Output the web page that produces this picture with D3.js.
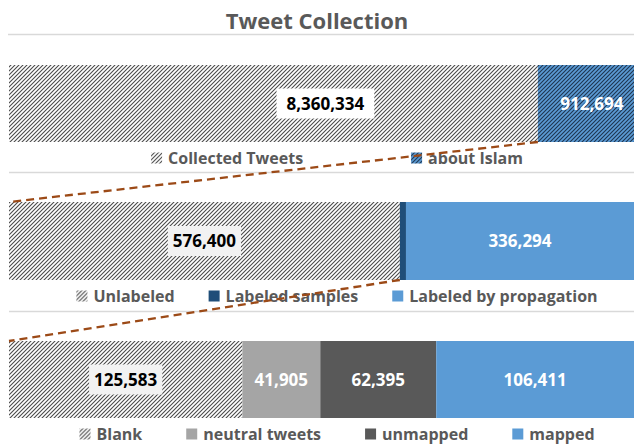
<!DOCTYPE html>
<html>
<head>
<meta charset="utf-8">
<script src="https://d3js.org/d3.v7.min.js"></script>
<style>
  body { margin: 0; background: #fff; }
  svg { display: block; font-family: 'Open Sans', sans-serif; font-weight: bold; }
</style>
</head>
<body>
<svg id="chart" width="634" height="445"></svg>
<script>
// data
const collectedNames = ['Collected Tweets', 'about Islam']
const collectedValues = [8360334, 912694]
// bar lengths as drawn in the original (the blue part is not to scale)
const collectedBars = [8360334, 1520000]

const labeledNames = ['Unlabeled', 'Labeled samples', 'Labeled by propagation']
const labeledValues = [576400, 9000, 336294]
const labeledShown = [true, false, true]

const mappedNames = ['Blank', 'neutral tweets', 'unmapped', 'mapped']
const mappedValues = [125583, 41905, 62395, 106411]

const width = 634
const height = 445
const fmt = d3.format(',')
const svg = d3.select('#chart')

// patterns
const defs = svg.append('defs')
function hatch(id, bg, fg) {
  let p = defs.append('pattern').attr('id', id).attr('patternUnits', 'userSpaceOnUse')
    .attr('width', 4).attr('height', 4)
  p.append('rect').attr('width', 4).attr('height', 4).attr('fill', bg)
  p.append('path').attr('d', 'M-1,1 l2,-2 M0,4 l4,-4 M3,5 l2,-2')
    .attr('stroke', fg).attr('stroke-width', 1.1)
}
hatch('hatch', '#ffffff', '#4a4a4a')
hatch('hatchBlue', '#5b9bd5', '#1d3550')

// title
svg.append('text').attr('x', 317).attr('y', 29).attr('text-anchor', 'middle')
  .attr('font-size', 22).attr('fill', '#595959').text('Tweet Collection')
svg.append('line').attr('x1', 8).attr('x2', width).attr('y1', 34.5).attr('y2', 34.5)
  .attr('stroke', '#d9d9d9').attr('stroke-width', 1.5)

const panels = [
  { names: collectedNames, values: collectedValues, bars: collectedBars, shown: [true, true],
    fills: ['url(#hatch)', 'url(#hatchBlue)'], textFill: ['#000', '#fff'], box: ['#ffffff', null],
    boxPad: 10, labelDx: [52, 6], top: 65, h: 77, legendY: 158, gap: 108, sep: 172 },
  { names: labeledNames, values: labeledValues, bars: labeledValues, shown: labeledShown,
    fills: ['url(#hatch)', '#1f4e79', '#5b9bd5'], textFill: ['#000', '#fff', '#fff'], box: ['#f2f2f2', null, null],
    boxPad: 5, labelDx: [0, 0, 0], top: 202, h: 78, legendY: 296, gap: 34, sep: 311 },
  { names: mappedNames, values: mappedValues, bars: mappedValues, shown: [true, true, true, true],
    fills: ['url(#hatch)', '#a5a5a5', '#595959', '#5b9bd5'], textFill: ['#000', '#fff', '#fff', '#fff'], box: ['#f2f2f2', null, null, null],
    boxPad: 5, labelDx: [0, 0, 0, 0], top: 341, h: 77, legendY: 434, gap: 44, sep: null }
]

panels.forEach(p => {
  let x = d3.scaleLinear().domain([0, d3.sum(p.bars)]).range([9, width])
  let ends = Array.from(d3.cumsum(p.bars))
  let starts = ends.map((e, i) => e - p.bars[i])
  p.x = x
  p.starts = starts
  let g = svg.append('g')
  g.selectAll('rect.seg').data(p.bars).enter().append('rect')
    .attr('x', (d, i) => x(starts[i]))
    .attr('width', (d, i) => x(ends[i]) - x(starts[i]))
    .attr('y', p.top).attr('height', p.h)
    .attr('fill', (d, i) => p.fills[i])

  // value labels
  p.values.forEach((v, i) => {
    if (!p.shown[i]) return
    let cx = (x(starts[i]) + x(ends[i])) / 2 + p.labelDx[i]
    let cy = p.top + p.h / 2
    let lg = g.append('g')
    let t = lg.append('text').attr('x', cx).attr('y', cy + 6).attr('text-anchor', 'middle')
      .attr('font-size', 17).attr('fill', p.textFill[i]).text(fmt(v))
    if (p.box[i]) {
      let tw = t.node().getComputedTextLength()
      lg.insert('rect', 'text').attr('x', cx - tw / 2 - p.boxPad).attr('width', tw + 2 * p.boxPad)
        .attr('y', cy - 15).attr('height', 30).attr('fill', p.box[i])
    }
  })

  // legend
  let lg = svg.append('g')
  let items = p.names.map((n, i) => {
    let it = lg.append('g')
    it.append('rect').attr('x', 0).attr('y', p.legendY - 5.5).attr('width', 11).attr('height', 11)
      .attr('fill', p.fills[i])
    let t = it.append('text').attr('x', 17).attr('y', p.legendY + 6).attr('font-size', 16)
      .attr('fill', '#595959').text(n)
    return { it: it, w: 17 + t.node().getComputedTextLength() }
  })
  let total = d3.sum(items, d => d.w) + p.gap * (items.length - 1)
  let cur = 337 - total / 2
  items.forEach(d => {
    d.it.attr('transform', 'translate(' + cur + ',0)')
    cur += d.w + p.gap
  })

  if (p.sep) {
    svg.append('line').attr('x1', 9).attr('x2', width).attr('y1', p.sep + 0.5).attr('y2', p.sep + 0.5)
      .attr('stroke', '#d9d9d9').attr('stroke-width', 1.5)
  }
})

// zoom lines from the segment that is broken down next
function zoomLine(from, idx, to) {
  svg.append('line')
    .attr('x1', from.x(from.starts[idx])).attr('y1', from.top + from.h)
    .attr('x2', to.x(0)).attr('y2', to.top)
    .attr('stroke', '#9c4a17').attr('stroke-width', 2.3).attr('stroke-dasharray', '8,5')
}
zoomLine(panels[0], 1, panels[1])
zoomLine(panels[1], 1, panels[2])
</script>
</body>
</html>
